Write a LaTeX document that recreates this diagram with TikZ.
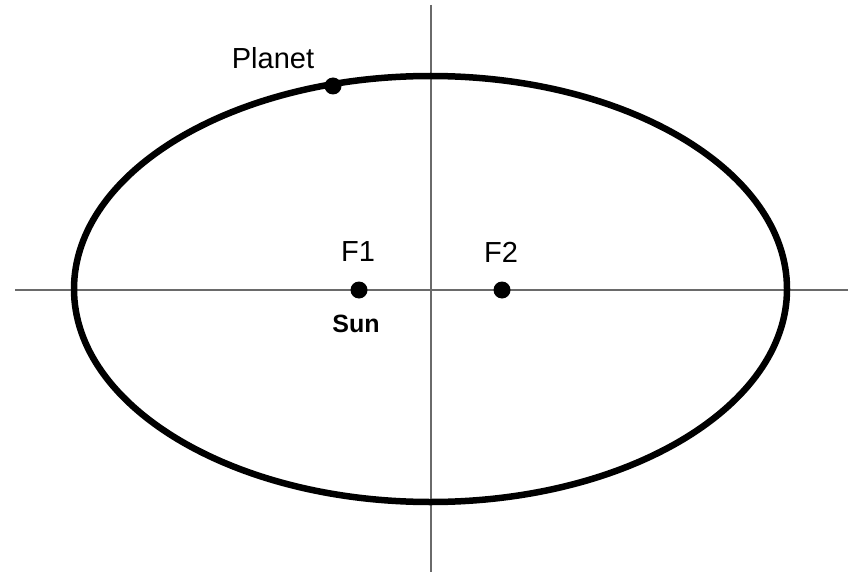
\documentclass[tikz,border=0pt]{standalone}
\usepackage{fontspec}
\setmainfont{Liberation Sans}
\usepackage{tikz}
\usetikzlibrary{positioning}
\definecolor{ink}{HTML}{000000}
\definecolor{muted}{HTML}{6A6A6A}
\tikzset{
  etiqueta/.style={font=\fontsize{29}{33}\selectfont,color=ink,inner sep=0pt},
  punto/.style={circle,fill=ink,inner sep=0pt,minimum size=17pt},
  eje/.style={line width=1.6pt,color=muted},
  orbita/.style={line width=6.5pt,color=ink},
}
\begin{document}
\begin{tikzpicture}[x=1pt,y=-1pt]
  \useasboundingbox[fill=white] (0,0) rectangle (850,572);
  \coordinate (izq) at (15,290);
  \coordinate (der) at (848,290);
  \coordinate (arr) at (431,5);
  \coordinate (aba) at (431,572);
  \draw[eje] (izq) -- (der);
  \draw[eje] (arr) -- (aba);
  \draw[orbita] (430.5,289) ellipse [x radius=356.5,y radius=213];
  \node[punto] (f1) at (359,290) {};
  \node[punto] (f2) at (502,290) {};
  \node[punto] (planeta) at (333,86) {};
  \node[etiqueta] (lf1) at (358,252) {F1};
  \node[etiqueta] (lf2) at (501,252) {F2};
  \node[etiqueta,font=\fontsize{25}{30}\selectfont\bfseries] (sol) at (356,324) {Sun};
  \node[etiqueta] (lplaneta) at (273,58) {Planet};
\end{tikzpicture}
\end{document}
